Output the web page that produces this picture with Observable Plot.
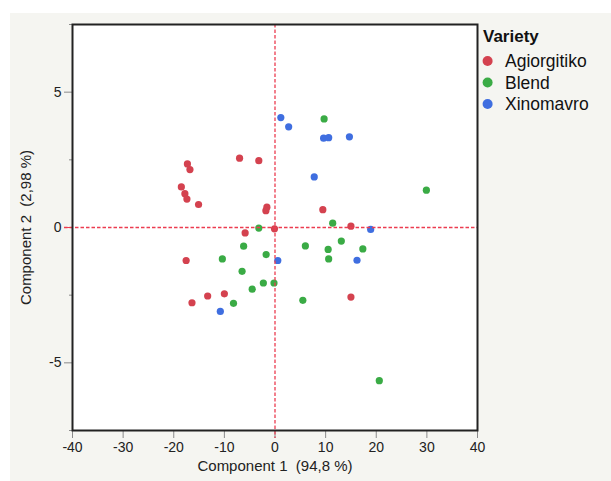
<!DOCTYPE html>
<html>
<head>
<meta charset="utf-8">
<script src="https://cdn.jsdelivr.net/npm/d3@7"></script>
<script src="https://cdn.jsdelivr.net/npm/@observablehq/plot@0.6"></script>
<style>
  body { margin: 0; background: #ffffff; font-family: "Liberation Sans", Arial, sans-serif; }
  #bg { position: absolute; left: 10px; top: 13px; width: 601px; height: 468px; background: #f5f5f1; }
  #chart { position: absolute; left: 0; top: 0; }
  #legend { position: absolute; left: 470px; top: 20px; }
</style>
</head>
<body>
<div id="bg"><div id="chart"></div></div>
<div id="legend"></div>
<script>
const varieties = ["Agiorgitiko", "Blend", "Xinomavro"];
const colors = ["#d4424f", "#3aab45", "#3f6ee0"];

const agiorgitikoX = [-7.0, -3.2, -17.3, -16.8, -18.5, -17.8, -17.4, -15.1, -1.6, -1.8, 9.45, 15.0, -0.1, -5.9, -17.55, -13.3, -10.0, 15.0, -16.4];
const agiorgitikoY = [2.56, 2.47, 2.35, 2.14, 1.50, 1.25, 1.05, 0.85, 0.75, 0.62, 0.66, 0.05, -0.05, -0.20, -1.22, -2.53, -2.45, -2.57, -2.78];

const blendX = [9.7, 29.9, 11.4, -3.2, -6.2, 6.0, 10.5, 13.1, 17.35, -10.4, -1.75, 10.6, -6.5, -2.3, -0.2, -4.5, 5.5, -8.2, 20.6];
const blendY = [4.01, 1.38, 0.16, -0.02, -0.69, -0.68, -0.81, -0.50, -0.79, -1.16, -1.00, -1.16, -1.62, -2.05, -2.05, -2.28, -2.69, -2.80, -5.66];

const xinomavroX = [1.15, 2.7, 9.6, 10.6, 14.7, 7.75, 18.9, 0.55, 16.2, -10.8];
const xinomavroY = [4.06, 3.72, 3.30, 3.32, 3.35, 1.87, -0.07, -1.22, -1.21, -3.10];

const xTicks = [-40, -30, -20, -10, 0, 10, 20, 30, 40];
const yTicks = [-5, 5];
const yZeroTick = [0];
const yMinorTicks = [-7.5, -2.5, 2.5, 7.5];
const xLabel = "Component 1\u00a0 (94,8 %)";
const yLabel = "Component 2\u00a0 (2,98 %)";
const legendTitle = "Variety";

const seriesX = [agiorgitikoX, blendX, xinomavroX];
const seriesY = [agiorgitikoY, blendY, xinomavroY];
const data = [];
varieties.forEach((v, i) => {
  seriesX[i].forEach((x, j) => data.push({variety: v, x, y: seriesY[i][j]}));
});

const refColor = "#ec3c50";
const tickColor = "#8a8a8a";
const fmt = d => String(d);

const chart = Plot.plot({
  width: 601,
  height: 468,
  marginLeft: 62,
  marginRight: 134,
  marginTop: 11,
  marginBottom: 51,
  style: { background: "transparent", fontFamily: "'Liberation Sans', Arial, sans-serif", fontSize: "14px", color: "#222" },
  x: { domain: [-40, 40] },
  y: { domain: [-7.5, 7.5] },
  color: { domain: varieties, range: colors },
  marks: [
    Plot.frame({ fill: "white" }),
    Plot.axisX(xTicks, { tickSize: 8, tickPadding: 4, stroke: tickColor, fill: "#222", fontSize: 14, tickFormat: fmt,
      label: xLabel, labelAnchor: "center", labelArrow: "none", labelOffset: 40 }),
    Plot.axisY(yTicks, { tickSize: 8, tickPadding: 3, stroke: tickColor, fill: "#222", fontSize: 14, tickFormat: fmt,
      label: yLabel, labelAnchor: "center", labelArrow: "none", labelOffset: 52 }),
    Plot.axisY(yZeroTick, { tickSize: 8, tickPadding: 3, stroke: refColor, fill: "#222", fontSize: 14, tickFormat: fmt, label: null }),
    Plot.axisY(yMinorTicks, { tickSize: 3, stroke: tickColor, tickFormat: () => "", label: null }),
    Plot.dot(data, { x: "x", y: "y", fill: "variety", r: 3.6 }),
    Plot.ruleX([0], { stroke: refColor, strokeDasharray: "3.5,2", strokeWidth: 1.3, insetBottom: -8 }),
    Plot.ruleY(yZeroTick, { stroke: refColor, strokeDasharray: "3.5,2", strokeWidth: 1.5, insetLeft: -8 }),
    Plot.frame({ stroke: "#222", strokeWidth: 2 })
  ]
});
chart.querySelectorAll("g[aria-label='x-axis label'], g[aria-label='y-axis label']").forEach(g => {
  g.setAttribute("font-size", "15");
  g.querySelectorAll("text").forEach(t => t.setAttribute("font-size", "15"));
});
document.getElementById("chart").appendChild(chart);

// legend
const lg = d3.select("#legend").append("svg")
  .attr("width", 141).attr("height", 100)
  .style("font-family", "'Liberation Sans', Arial, sans-serif");
lg.append("text").attr("x", 13).attr("y", 22)
  .attr("font-size", 17).attr("font-weight", "bold").attr("fill", "#111").text(legendTitle);
const rows = lg.selectAll("g.row").data(varieties).join("g").attr("class", "row")
  .attr("transform", (d, i) => `translate(0, ${47 + i * 21.5})`);
rows.append("circle").attr("cx", 17.6).attr("cy", -6).attr("r", 5).attr("fill", (d, i) => colors[i]);
rows.append("text").attr("x", 35).attr("y", 0).attr("font-size", 17.5).attr("fill", "#111").text(d => d);
</script>
</body>
</html>
